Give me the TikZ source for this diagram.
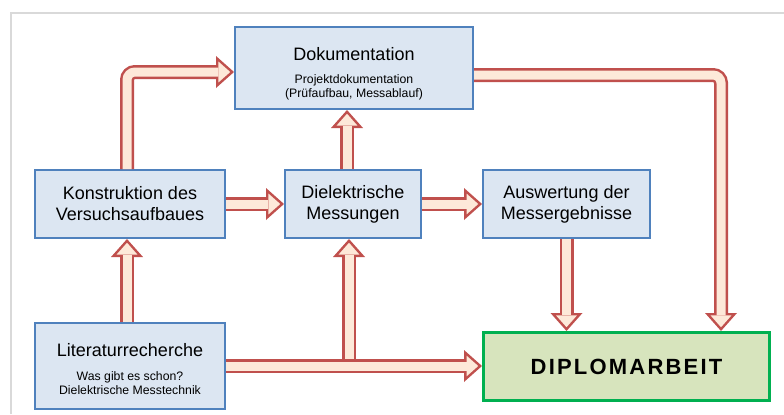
\documentclass[tikz,border=0pt]{standalone}
\usepackage{fontspec}
\setmainfont{Liberation Sans}
\newfontfamily\diplfont[LetterSpace=10]{Liberation Sans}
\usetikzlibrary{arrows.meta}
\pgfkeys{/tikz/>=Stealth}

\definecolor{boxblue}{HTML}{4F81BD}
\definecolor{boxfill}{HTML}{DCE6F2}
\definecolor{diplgreen}{HTML}{00B050}
\definecolor{diplfill}{HTML}{D7E4BD}
\definecolor{arrowred}{HTML}{C0504D}
\definecolor{arrowfill}{HTML}{FDE9D9}
\definecolor{framegray}{HTML}{D9D9D9}

\newcommand{\mainsize}{\fontsize{13.5}{15.75}\selectfont}
\newcommand{\subsize}{\fontsize{9.2}{10.5}\selectfont}

\tikzset{
  box/.style={draw=boxblue, fill=boxfill, line width=1.7pt, inner sep=0pt, align=center, font=\mainsize},
  diplbox/.style={draw=diplgreen, fill=diplfill, line width=2pt, inner sep=0pt, font=\diplfont\bfseries\fontsize{16.5}{20}\selectfont},
  arrowout/.style={draw=arrowred, line width=10.5pt, rounded corners=6pt,
    -{Triangle[length=13.5pt,width=24pt,line width=0pt]}},
  arrowin/.style={draw=arrowfill, line width=6.75pt, rounded corners=6pt, shorten >=2.83pt,
    -{Triangle[length=8.8pt,width=15.6pt,line width=0pt]}},
}
% hollow block arrow: red outline, then pale filling
\newcommand{\fatarrow}[1]{\draw[arrowout] #1; \draw[arrowin] #1;}

\begin{document}
\begin{tikzpicture}[x=0.75pt,y=-0.75pt]
  \useasboundingbox (0,0) rectangle (784,414);

  % frame
  \draw[framegray, line width=1.1pt] (11,414) -- (11,13) -- (784,13);

  % boxes
  \node[box, minimum width=178.3pt, minimum height=61.3pt] (doku) at (354,68)
    {\rule{0pt}{18pt}Dokumentation\\[1.25pt]\subsize Projektdokumentation\\[-5.25pt]\subsize (Prüfaufbau, Messablauf)};
  \node[box, minimum width=142.3pt, minimum height=50.8pt] (konstr) at (130,204)
    {Konstruktion des\\Versuchsaufbaues};
  \node[box, minimum width=101.8pt, minimum height=50.8pt] (diel) at (353,204)
    {Dielektrische\\Messungen};
  \node[box, minimum width=125pt, minimum height=50.8pt] (ausw) at (566.5,204)
    {Auswertung der\\Messergebnisse};
  \node[box, minimum width=142.3pt, minimum height=64.3pt] (lit) at (130,366)
    {\rule{0pt}{15pt}Literaturrecherche\\[2pt]\subsize Was gibt es schon?\\[-5pt]\subsize Dielektrische Messtechnik};
  \node[diplbox, minimum width=214.75pt, minimum height=51.25pt] (dipl) at (626.5,366.5)
    {DIPLOMARBEIT};

  % split point on the lower arrow
  \coordinate (split) at ([xshift=-3pt]diel.south |- lit.east);

  % block arrows
  \fatarrow{([xshift=-2.25pt]konstr.north) |- ([yshift=-3pt]doku.west)}
  \fatarrow{(konstr.east) -- (diel.west)}
  \fatarrow{(diel.east) -- (ausw.west)}
  \fatarrow{([xshift=-4.5pt]diel.north) -- ([xshift=-4.5pt]diel.north |- doku.south)}
  \fatarrow{([yshift=-5.25pt]doku.east) -| ([xshift=-37.5pt]dipl.north east)}
  \fatarrow{(ausw.south) -- (ausw.south |- dipl.north)}
  \fatarrow{([xshift=-2.25pt]lit.north) -- ([xshift=-2.25pt]konstr.south)}
  \fatarrow{(split) -- ([xshift=-3pt]diel.south)}
  \fatarrow{(lit.east) -- (lit.east -| dipl.west)}
\end{tikzpicture}
\end{document}
